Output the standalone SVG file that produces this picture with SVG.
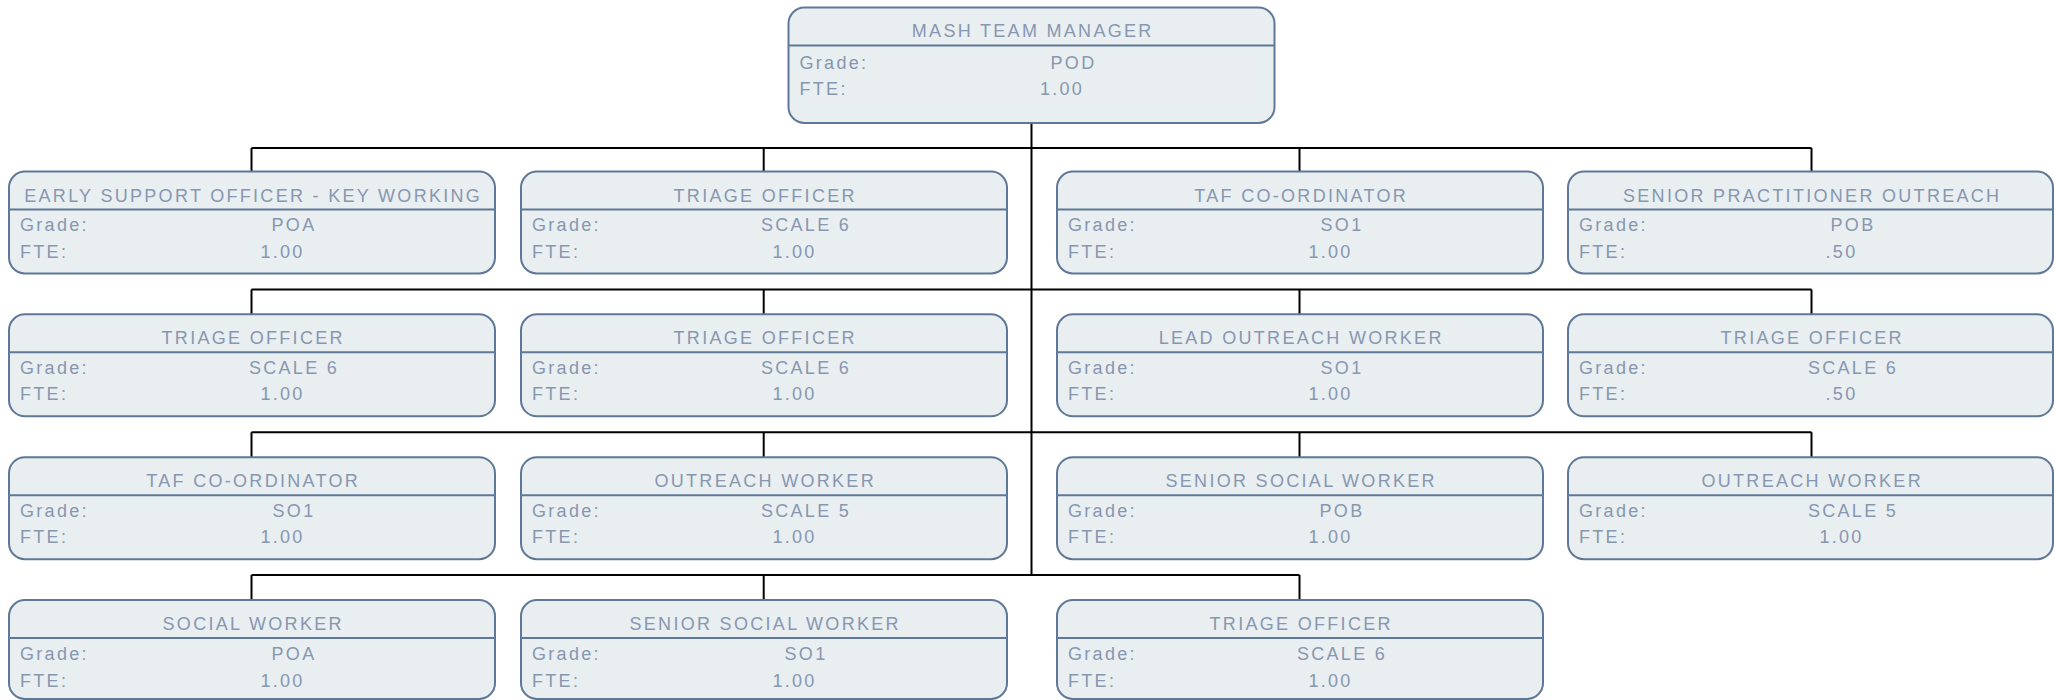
<svg xmlns="http://www.w3.org/2000/svg" width="2054" height="700" viewBox="0 0 2054 700">
<style>
.box{fill:#e9eef1;stroke:#5f7898;stroke-width:2}
.div{stroke:#5f7898;stroke-width:2}
text{font-family:"Liberation Sans",Arial,sans-serif;font-size:18px;fill:#8797b0;letter-spacing:2.3px}
.t{text-anchor:middle}
.v{text-anchor:middle}
.conn{stroke:#000;stroke-width:2;fill:none}
</style>
<rect width="2054" height="700" fill="#fff"/>
<g id="connectors" class="conn">
<path d="M1031.5 123V575"/>
<path d="M251.5 148H1811.5M251.5 148V171.5M763.7 148V171.5M1299.5 148V171.5M1811.5 148V171.5"/>
<path d="M251.5 289.5H1811.5M251.5 289.5V314.3M763.7 289.5V314.3M1299.5 289.5V314.3M1811.5 289.5V314.3"/>
<path d="M251.5 432.3H1811.5M251.5 432.3V457.2M763.7 432.3V457.2M1299.5 432.3V457.2M1811.5 432.3V457.2"/>
<path d="M251.5 575H1299.5M251.5 575V600M763.7 575V600M1299.5 575V600"/>
</g>
<g id="n0" transform="translate(788.5,7.5)">
<rect class="box" x="0" y="0" width="486" height="115.5" rx="16"/>
<line class="div" x1="0" y1="38" x2="486" y2="38"/>
<text class="t" x="244.2" y="29.5">MASH TEAM MANAGER</text>
<text x="11" y="61">Grade:</text><text class="v" x="285" y="61">POD</text>
<text x="11" y="87.5">FTE:</text><text class="v" x="273.5" y="87.5">1.00</text>
</g>
<g id="n1" transform="translate(9,171.5)">
<rect class="box" width="486" height="102" rx="16"/><line class="div" x1="0" y1="38" x2="486" y2="38"/>
<text class="t" x="244.2" y="30">EARLY SUPPORT OFFICER - KEY WORKING</text>
<text x="11" y="59.5">Grade:</text><text class="v" x="285" y="59.5">POA</text>
<text x="11" y="86">FTE:</text><text class="v" x="273.5" y="86">1.00</text>
</g>
<g id="n2" transform="translate(521,171.5)">
<rect class="box" width="486" height="102" rx="16"/><line class="div" x1="0" y1="38" x2="486" y2="38"/>
<text class="t" x="244.2" y="30">TRIAGE OFFICER</text>
<text x="11" y="59.5">Grade:</text><text class="v" x="285" y="59.5">SCALE 6</text>
<text x="11" y="86">FTE:</text><text class="v" x="273.5" y="86">1.00</text>
</g>
<g id="n3" transform="translate(1057,171.5)">
<rect class="box" width="486" height="102" rx="16"/><line class="div" x1="0" y1="38" x2="486" y2="38"/>
<text class="t" x="244.2" y="30">TAF CO-ORDINATOR</text>
<text x="11" y="59.5">Grade:</text><text class="v" x="285" y="59.5">SO1</text>
<text x="11" y="86">FTE:</text><text class="v" x="273.5" y="86">1.00</text>
</g>
<g id="n4" transform="translate(1568,171.5)">
<rect class="box" width="485" height="102" rx="16"/><line class="div" x1="0" y1="38" x2="485" y2="38"/>
<text class="t" x="244.2" y="30">SENIOR PRACTITIONER OUTREACH</text>
<text x="11" y="59.5">Grade:</text><text class="v" x="285" y="59.5">POB</text>
<text x="11" y="86">FTE:</text><text class="v" x="273.5" y="86">.50</text>
</g>
<g id="n5" transform="translate(9,314.3)">
<rect class="box" width="486" height="102" rx="16"/><line class="div" x1="0" y1="38" x2="486" y2="38"/>
<text class="t" x="244.2" y="30">TRIAGE OFFICER</text>
<text x="11" y="59.5">Grade:</text><text class="v" x="285" y="59.5">SCALE 6</text>
<text x="11" y="86">FTE:</text><text class="v" x="273.5" y="86">1.00</text>
</g>
<g id="n6" transform="translate(521,314.3)">
<rect class="box" width="486" height="102" rx="16"/><line class="div" x1="0" y1="38" x2="486" y2="38"/>
<text class="t" x="244.2" y="30">TRIAGE OFFICER</text>
<text x="11" y="59.5">Grade:</text><text class="v" x="285" y="59.5">SCALE 6</text>
<text x="11" y="86">FTE:</text><text class="v" x="273.5" y="86">1.00</text>
</g>
<g id="n7" transform="translate(1057,314.3)">
<rect class="box" width="486" height="102" rx="16"/><line class="div" x1="0" y1="38" x2="486" y2="38"/>
<text class="t" x="244.2" y="30">LEAD OUTREACH WORKER</text>
<text x="11" y="59.5">Grade:</text><text class="v" x="285" y="59.5">SO1</text>
<text x="11" y="86">FTE:</text><text class="v" x="273.5" y="86">1.00</text>
</g>
<g id="n8" transform="translate(1568,314.3)">
<rect class="box" width="485" height="102" rx="16"/><line class="div" x1="0" y1="38" x2="485" y2="38"/>
<text class="t" x="244.2" y="30">TRIAGE OFFICER</text>
<text x="11" y="59.5">Grade:</text><text class="v" x="285" y="59.5">SCALE 6</text>
<text x="11" y="86">FTE:</text><text class="v" x="273.5" y="86">.50</text>
</g>
<g id="n9" transform="translate(9,457.2)">
<rect class="box" width="486" height="102" rx="16"/><line class="div" x1="0" y1="38" x2="486" y2="38"/>
<text class="t" x="244.2" y="30">TAF CO-ORDINATOR</text>
<text x="11" y="59.5">Grade:</text><text class="v" x="285" y="59.5">SO1</text>
<text x="11" y="86">FTE:</text><text class="v" x="273.5" y="86">1.00</text>
</g>
<g id="n10" transform="translate(521,457.2)">
<rect class="box" width="486" height="102" rx="16"/><line class="div" x1="0" y1="38" x2="486" y2="38"/>
<text class="t" x="244.2" y="30">OUTREACH WORKER</text>
<text x="11" y="59.5">Grade:</text><text class="v" x="285" y="59.5">SCALE 5</text>
<text x="11" y="86">FTE:</text><text class="v" x="273.5" y="86">1.00</text>
</g>
<g id="n11" transform="translate(1057,457.2)">
<rect class="box" width="486" height="102" rx="16"/><line class="div" x1="0" y1="38" x2="486" y2="38"/>
<text class="t" x="244.2" y="30">SENIOR SOCIAL WORKER</text>
<text x="11" y="59.5">Grade:</text><text class="v" x="285" y="59.5">POB</text>
<text x="11" y="86">FTE:</text><text class="v" x="273.5" y="86">1.00</text>
</g>
<g id="n12" transform="translate(1568,457.2)">
<rect class="box" width="485" height="102" rx="16"/><line class="div" x1="0" y1="38" x2="485" y2="38"/>
<text class="t" x="244.2" y="30">OUTREACH WORKER</text>
<text x="11" y="59.5">Grade:</text><text class="v" x="285" y="59.5">SCALE 5</text>
<text x="11" y="86">FTE:</text><text class="v" x="273.5" y="86">1.00</text>
</g>
<g id="n13" transform="translate(9,600)">
<rect class="box" width="486" height="99" rx="16"/><line class="div" x1="0" y1="38" x2="486" y2="38"/>
<text class="t" x="244.2" y="30">SOCIAL WORKER</text>
<text x="11" y="60">Grade:</text><text class="v" x="285" y="60">POA</text>
<text x="11" y="86.5">FTE:</text><text class="v" x="273.5" y="86.5">1.00</text>
</g>
<g id="n14" transform="translate(521,600)">
<rect class="box" width="486" height="99" rx="16"/><line class="div" x1="0" y1="38" x2="486" y2="38"/>
<text class="t" x="244.2" y="30">SENIOR SOCIAL WORKER</text>
<text x="11" y="60">Grade:</text><text class="v" x="285" y="60">SO1</text>
<text x="11" y="86.5">FTE:</text><text class="v" x="273.5" y="86.5">1.00</text>
</g>
<g id="n15" transform="translate(1057,600)">
<rect class="box" width="486" height="99" rx="16"/><line class="div" x1="0" y1="38" x2="486" y2="38"/>
<text class="t" x="244.2" y="30">TRIAGE OFFICER</text>
<text x="11" y="60">Grade:</text><text class="v" x="285" y="60">SCALE 6</text>
<text x="11" y="86.5">FTE:</text><text class="v" x="273.5" y="86.5">1.00</text>
</g>
</svg>
